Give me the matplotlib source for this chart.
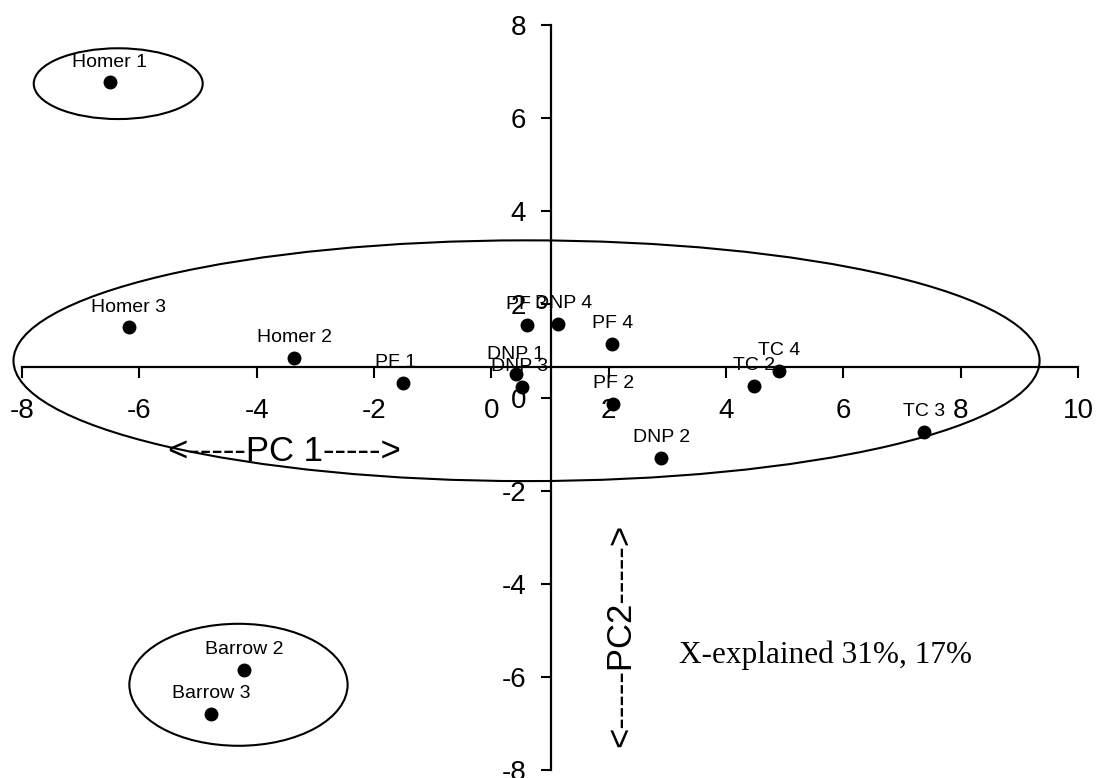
import matplotlib
matplotlib.use('Agg')
import matplotlib.pyplot as plt
from matplotlib.patches import Ellipse

# sample scores (PC1, PC2)
names = ['Homer 1', 'Homer 3', 'Homer 2', 'PF 1', 'PF 3', 'DNP 4', 'PF 4',
         'DNP 1', 'DNP 3', 'PF 2', 'TC 2', 'TC 4', 'TC 3', 'DNP 2',
         'Barrow 2', 'Barrow 3']
pc1 = [-6.50, -6.18, -3.36, -1.51, 0.60, 1.14, 2.06,
       0.42, 0.53, 2.08, 4.47, 4.91, 7.37, 2.90,
       -4.22, -4.78]
pc2 = [6.77, 1.51, 0.85, 0.31, 1.56, 1.58, 1.15,
       0.50, 0.23, -0.14, 0.25, 0.57, -0.74, -1.30,
       -5.85, -6.79]

# small label nudges (points)
nudge = {'PF 1': -5, 'DNP 4': 4, 'DNP 3': -2}

# group ellipses: center x, center y, width, height
grp_cx = [0.60, -6.36, -4.31]
grp_cy = [0.79, 6.74, -6.17]
grp_w = [17.49, 2.88, 3.72]
grp_h = [5.17, 1.52, 2.62]

xticks = [-8, -6, -4, -2, 0, 2, 4, 6, 8, 10]
yticks = [-8, -6, -4, -2, 0, 2, 4, 6, 8]

plt.rcParams['font.family'] = ['Liberation Sans', 'DejaVu Sans']
plt.rcParams['axes.unicode_minus'] = False

fig = plt.figure(figsize=(10.97, 7.78), dpi=100)
ax = fig.add_axes([22 / 1097, 8 / 778, 1056 / 1097, 745 / 778])
ax.set_xlim(-8, 10)
ax.set_ylim(-8, 8)

ax.plot(pc1, pc2, 'o', color='black', markersize=9, clip_on=False, zorder=3)
for n, x, y in zip(names, pc1, pc2):
    ax.annotate(n, (x, y), xytext=(nudge.get(n, 0), 14.5), textcoords='offset points',
                ha='center', va='center', fontsize=14, zorder=4)

for cx, cy, w, h in zip(grp_cx, grp_cy, grp_w, grp_h):
    ax.add_patch(Ellipse((cx, cy), w, h, fill=False, edgecolor='black',
                         linewidth=1.5, clip_on=False))

# axes crossing inside the plot
for s in ['top', 'right']:
    ax.spines[s].set_visible(False)
ax.spines['left'].set_position(('data', 1.02))
ax.spines['bottom'].set_position(('data', 0.65))
ax.spines['left'].set_linewidth(1.6)
ax.spines['bottom'].set_linewidth(1.6)

ax.set_xticks(xticks)
ax.set_yticks(yticks)
ax.tick_params(axis='x', direction='out', length=8, width=1.5, pad=14, labelsize=20)
ax.tick_params(axis='y', direction='out', length=7, width=1.5, pad=11, labelsize=20)

ax.text(-3.52, -1.17, '<-----PC 1----->', fontsize=25, ha='center', va='center')
ax.text(2.20, -5.10, '<-----PC2----->', fontsize=25, ha='center', va='center',
        rotation=90)
ax.text(5.69, -5.53, 'X-explained 31%, 17%', fontsize=22.5, ha='center', va='center',
        family=['Liberation Serif', 'DejaVu Serif'])

fig.savefig('out.png', dpi=100)
